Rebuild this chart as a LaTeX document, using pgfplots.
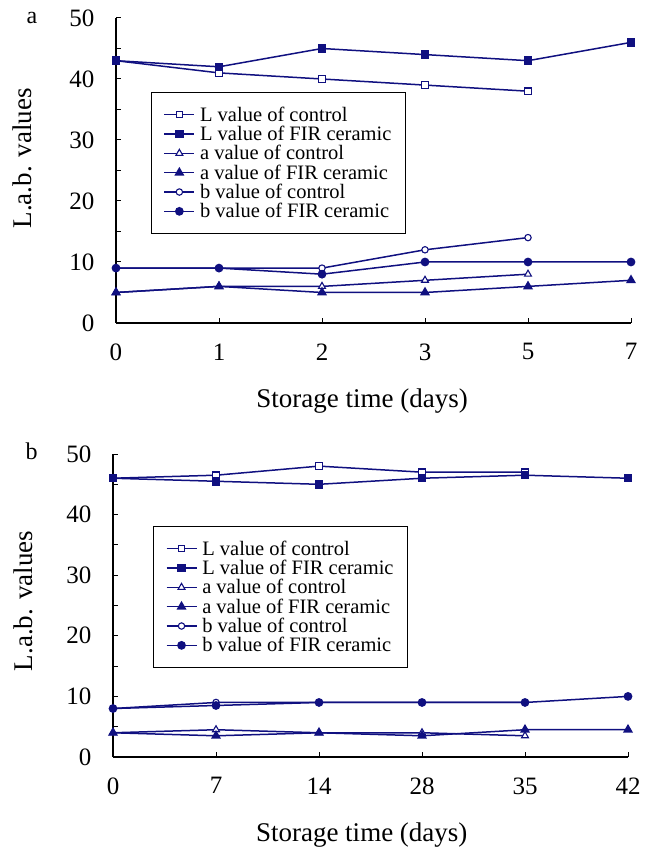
\documentclass[border=0pt]{standalone}
\usepackage{fontspec}
\setmainfont{Liberation Serif}
\usepackage{pgfplots}
\pgfplotsset{compat=1.18}
\definecolor{navy}{RGB}{16,16,128}

\pgfplotsset{
  labpanel/.style={
    scale only axis,
    width=515pt,
    axis lines*=left,
    axis line style={black, line width=1.3pt},
    tick align=inside,
    major tick length=5pt,
    minor tick length=5pt,
    tick style={black, line width=1pt},
    xmin=0, xmax=5,
    ymin=0, ymax=50,
    xtick={0,1,2,3,4,5},
    ytick={0,10,20,30,40,50},
    minor ytick={5,15,25,35,45},
    clip=false,
    /pgf/number format/assume math mode=true,
    ticklabel style={font=\fontsize{25}{25}\selectfont},
    xticklabel style={yshift=-17pt},
    yticklabel style={xshift=-18pt},
    label style={font=\fontsize{27}{27}\selectfont},
    ylabel={L.a.b. values},
    xlabel={Storage time (days)},
    legend cell align=left,
    legend style={draw=black, line width=1.2pt, font=\fontsize{20.5}{19.5}\selectfont,
      anchor=north west, inner xsep=12pt, inner ysep=12pt, row sep=-0.6pt,
      column sep=3pt},
    legend image code/.code={
      \draw[mark repeat=2, mark phase=2, line width=1.5pt]
        plot coordinates {(0pt,0pt) (15pt,0pt) (30pt,0pt)};},
    every axis plot/.append style={navy, line width=1.5pt},
  },
  lc/.style={mark=square*, mark options={fill=white, line width=1.1pt}, mark size=3.2pt},
  lf/.style={mark=square*, mark options={fill=navy}, mark size=3.5pt},
  ac/.style={mark=triangle*, mark options={fill=white, line width=1.1pt}, mark size=4pt},
  af/.style={mark=triangle*, mark options={fill=navy}, mark size=4.3pt},
  bc/.style={mark=*, mark options={fill=white, line width=1.1pt}, mark size=3.2pt},
  bf/.style={mark=*, mark options={fill=navy}, mark size=3.6pt},
}

\begin{document}
\begin{tikzpicture}
\useasboundingbox (0pt,0pt) rectangle (659pt,850pt);

% panel a
\begin{axis}[labpanel,
  at={(116pt,527pt)}, anchor=south west,
  height=305pt,
  xticklabels={0,1,2,3,5,7},
  ylabel style={at={(axis description cs:-0.181,0.54)}, anchor=center},
  xlabel style={at={(axis description cs:0.478,-0.256)}, anchor=center},
  legend style={at={(axis description cs:0.068,0.757)}},
]
\addplot[lc] coordinates {(0,43) (1,41) (2,40) (3,39) (4,38)};
\addplot[lf] coordinates {(0,43) (1,42) (2,45) (3,44) (4,43) (5,46)};
\addplot[ac] coordinates {(0,5) (1,6) (2,6) (3,7) (4,8)};
\addplot[af] coordinates {(0,5) (1,6) (2,5) (3,5) (4,6) (5,7)};
\addplot[bc] coordinates {(0,9) (1,9) (2,9) (3,12) (4,14)};
\addplot[bf] coordinates {(0,9) (1,9) (2,8) (3,10) (4,10) (5,10)};
\legend{L value of control, L value of FIR ceramic, a value of control,
  a value of FIR ceramic, b value of control, b value of FIR ceramic}
\node[font=\fontsize{24}{24}\selectfont, anchor=center] at (axis description cs:-0.163,1.0) {a};
\end{axis}

% panel b
\begin{axis}[labpanel,
  at={(113pt,93pt)}, anchor=south west,
  height=303pt,
  xticklabels={0,7,14,28,35,42},
  ylabel style={at={(axis description cs:-0.175,0.515)}, anchor=center},
  xlabel style={at={(axis description cs:0.483,-0.257)}, anchor=center},
  legend style={at={(axis description cs:0.078,0.762)}},
]
\addplot[lc] coordinates {(0,46) (1,46.5) (2,48) (3,47) (4,47)};
\addplot[lf] coordinates {(0,46) (1,45.5) (2,45) (3,46) (4,46.5) (5,46)};
\addplot[ac] coordinates {(0,4) (1,4.5) (2,4) (3,4) (4,3.5)};
\addplot[af] coordinates {(0,4) (1,3.5) (2,4) (3,3.5) (4,4.5) (5,4.5)};
\addplot[bc] coordinates {(0,8) (1,9) (2,9) (3,9) (4,9)};
\addplot[bf] coordinates {(0,8) (1,8.5) (2,9) (3,9) (4,9) (5,10)};
\legend{L value of control, L value of FIR ceramic, a value of control,
  a value of FIR ceramic, b value of control, b value of FIR ceramic}
\node[font=\fontsize{24}{24}\selectfont, anchor=center] at (axis description cs:-0.158,1.01) {b};
\end{axis}
\end{tikzpicture}
\end{document}
